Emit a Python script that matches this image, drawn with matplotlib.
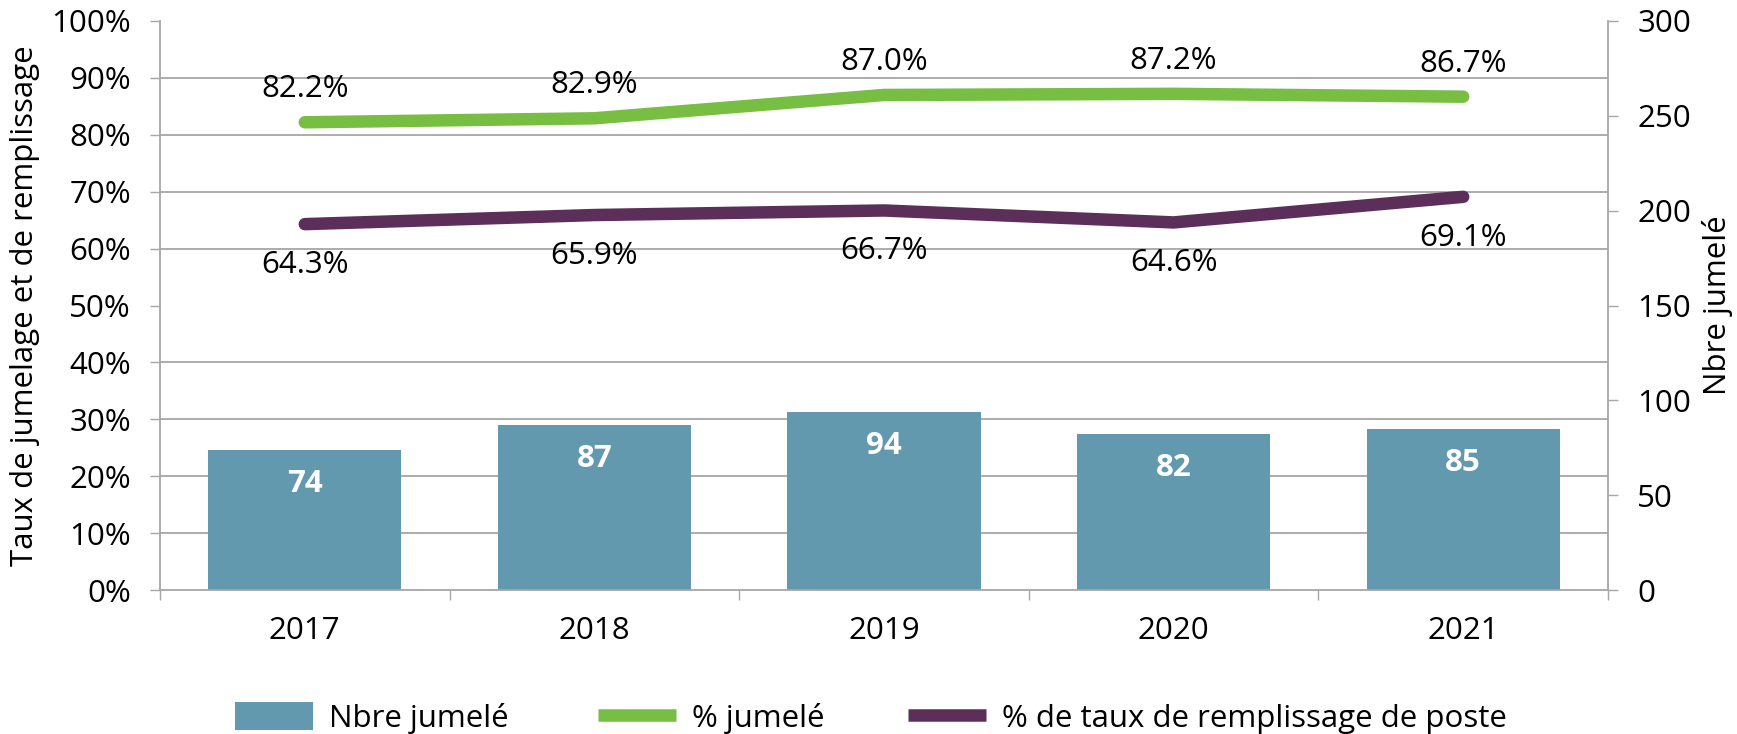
import matplotlib
matplotlib.use("Agg")
import matplotlib.pyplot as plt
import numpy as np
from matplotlib.ticker import FixedLocator, FuncFormatter
from matplotlib.patches import Patch
from matplotlib.lines import Line2D

plt.rcParams['font.family'] = ['Open Sans', 'DejaVu Sans']

years = ["2017", "2018", "2019", "2020", "2021"]
nbre_jumele = [74, 87, 94, 82, 85]
pct_jumele = [82.2, 82.9, 87.0, 87.2, 86.7]
pct_remplissage = [64.3, 65.9, 66.7, 64.6, 69.1]

bar_color = "#6399AE"
green = "#77BE43"
purple = "#5C2F5B"
grid_color = "#A6A6A6"
FS = 22.5
LW = 9

fig = plt.figure(figsize=(17.37, 7.34), dpi=100)
ax_w = (1608 - 160) / 1737
ax = fig.add_axes([160/1737, 1-590/734, ax_w, (590-21)/734])
ax2 = ax.twinx()
x = np.arange(len(years))

# Bars on the count axis (right side)
ax.bar(x, nbre_jumele, width=0.667, color=bar_color, zorder=2)
ax.set_ylim(0, 300)
ax.set_xlim(-0.5, len(years) - 0.5)
for xi, v in zip(x, nbre_jumele):
    ax.annotate(str(v), (xi, v), xytext=(0, -34), textcoords="offset pixels",
                ha="center", va="center", color="white", fontsize=FS, fontweight="bold", zorder=3)

ax.yaxis.tick_right()
ax.set_yticks(np.arange(0, 301, 50))
ax.tick_params(axis="y", which="major", right=True, left=False, labelright=True, labelleft=False,
               length=7, width=1, color=grid_color, pad=14, labelsize=FS)
# gridlines every 10% of the percentage axis
ax.yaxis.set_minor_locator(FixedLocator(np.arange(0, 301, 30)))
ax.tick_params(axis="y", which="minor", length=0)
ax.grid(axis="y", which="minor", color=grid_color, linewidth=1.3, zorder=0)
ax.grid(axis="y", which="major", visible=False)
ax.set_axisbelow(True)
ax.set_ylabel("Nbre jumelé", fontsize=FS, rotation=90)
ax.yaxis.set_label_coords((1717 - 160) / 1448, 0.5)
ax.yaxis.label.set_va("center")
ax.yaxis.label.set_ha("center")

ax.set_xticks(x)
ax.set_xticklabels(years)
ax.xaxis.set_minor_locator(FixedLocator(np.arange(-0.5, len(years), 1.0)))
ax.tick_params(axis="x", which="major", length=0, pad=19, labelsize=FS)
ax.tick_params(axis="x", which="minor", length=7, width=1, color=grid_color)

for s in ["left", "right", "bottom"]:
    ax.spines[s].set_color(grid_color)
    ax.spines[s].set_linewidth(1.3)
ax.spines["top"].set_visible(False)

# Percentage axis (left side)
ax2.set_ylim(0, 100)
ax2.yaxis.tick_left()
ax2.set_yticks(np.arange(0, 101, 10))
ax2.yaxis.set_major_formatter(FuncFormatter(lambda v, p: f"{int(v)}%"))
ax2.tick_params(axis="y", length=7, width=1, color=grid_color, pad=14, labelsize=FS)
ax2.set_ylabel("Taux de jumelage et de remplissage", fontsize=FS)
ax2.yaxis.set_label_coords((25 - 160) / 1448, 0.5)
ax2.yaxis.label.set_va("center")
ax2.yaxis.label.set_ha("center")
for s in ax2.spines.values():
    s.set_visible(False)

ax2.plot(x, pct_jumele, color=green, linewidth=LW, solid_capstyle="round", solid_joinstyle="round", zorder=4)
ax2.plot(x, pct_remplissage, color=purple, linewidth=LW, solid_capstyle="round", solid_joinstyle="round", zorder=4)
for xi, v in zip(x, pct_jumele):
    ax2.annotate(f"{v:.1f}%", (xi, v), xytext=(0, 33), textcoords="offset pixels",
                 ha="center", va="center", fontsize=FS, color="black")
for xi, v in zip(x, pct_remplissage):
    ax2.annotate(f"{v:.1f}%", (xi, v), xytext=(0, -41), textcoords="offset pixels",
                 ha="center", va="center", fontsize=FS, color="black")

handles = [Patch(facecolor=bar_color, edgecolor="none", label="Nbre jumelé"),
           Line2D([0], [0], color=green, linewidth=LW, solid_capstyle="butt", label="% jumelé"),
           Line2D([0], [0], color=purple, linewidth=LW, solid_capstyle="butt", label="% de taux de remplissage de poste")]
legend_x = [235, 598, 908]
for h, lx in zip(handles, legend_x):
    fig.legend(handles=[h], loc="center left", bbox_to_anchor=(lx/1737, 1-718/734),
               frameon=False, fontsize=FS, handlelength=2.5, handleheight=1.0,
               handletextpad=0.5, borderpad=0, borderaxespad=0)

fig.savefig("out.png", dpi=100)
